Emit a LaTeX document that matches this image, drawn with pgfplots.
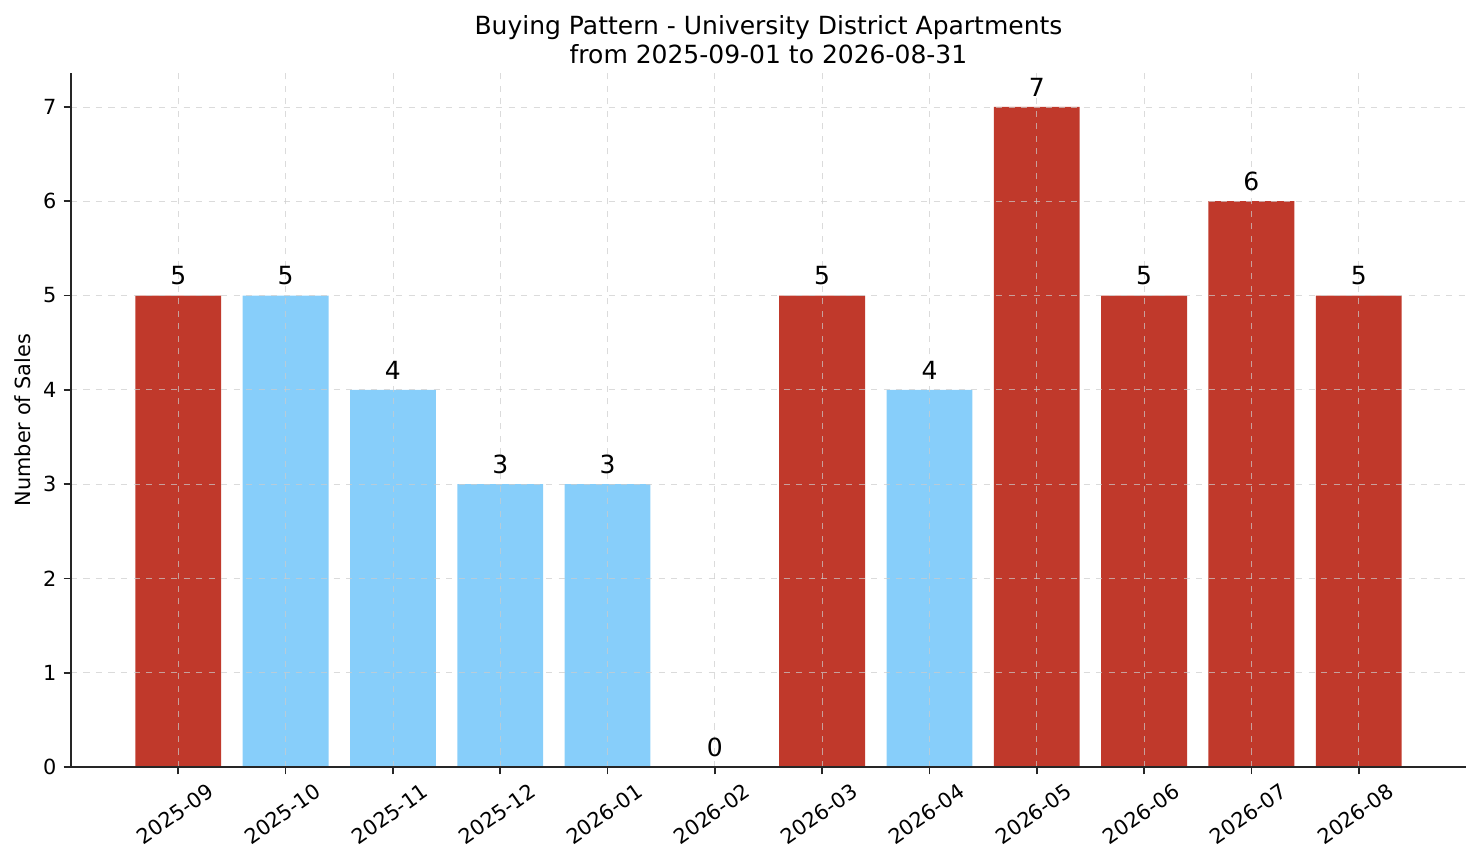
\documentclass[border=0pt]{standalone}
\usepackage{pgfplots}
\pgfplotsset{compat=1.18}
\usepackage{fontspec}
\setmainfont{DejaVu Sans}

\definecolor{barred}{HTML}{C0392B}
\definecolor{barblue}{HTML}{87CEFA}
\definecolor{spine}{HTML}{262626}

\begin{document}
\begin{tikzpicture}
\useasboundingbox (-34.08pt,-46.08pt) rectangle (676.8pt,368.16pt);
\begin{axis}[
    scale only axis,
    width=669.6pt, height=333.12pt,
    xmin=-1, xmax=12,
    ymin=0, ymax=7.36,
    axis lines*=left,
    axis line style={spine, line width=0.8pt},
    axis on top,
    xtick={0,...,11},
    xticklabels={2025-09,2025-10,2025-11,2025-12,2026-01,2026-02,2026-03,2026-04,2026-05,2026-06,2026-07,2026-08},
    ytick={0,1,2,3,4,5,6,7},
    tick align=outside,
    major tick length=3.5pt,
    tick style={spine, line width=0.8pt},
    grid=major,
    grid style={dashed, line width=0.4pt, gray!40, opacity=0.7},
    ticklabel style={font=\fontsize{10}{12}\selectfont},
    /pgf/number format/assume math mode=true,
    xticklabel style={anchor=center, yshift=-19pt, xshift=-1.5pt, rotate=35},
    ylabel={Number of Sales},
    ylabel style={font=\fontsize{10}{12}\selectfont, yshift=-0.8pt},
    title={Buying Pattern - University District Apartments\\from 2025-09-01 to 2026-08-31},
    title style={font=\fontsize{12}{14}\selectfont, align=center, yshift=-5pt},
    bar width=0.8,
    nodes near coords,
    every node near coord/.append style={font=\fontsize{12}{14}\selectfont, black, yshift=1.5pt},
]
\addplot[ybar, bar shift=0pt, fill=barred, draw=none]
    coordinates {(0,5)(5,0)(6,5)(8,7)(9,5)(10,6)(11,5)};
\addplot[ybar, bar shift=0pt, fill=barblue, draw=none]
    coordinates {(1,5)(2,4)(3,3)(4,3)(7,4)};
\end{axis}
\end{tikzpicture}
\end{document}
